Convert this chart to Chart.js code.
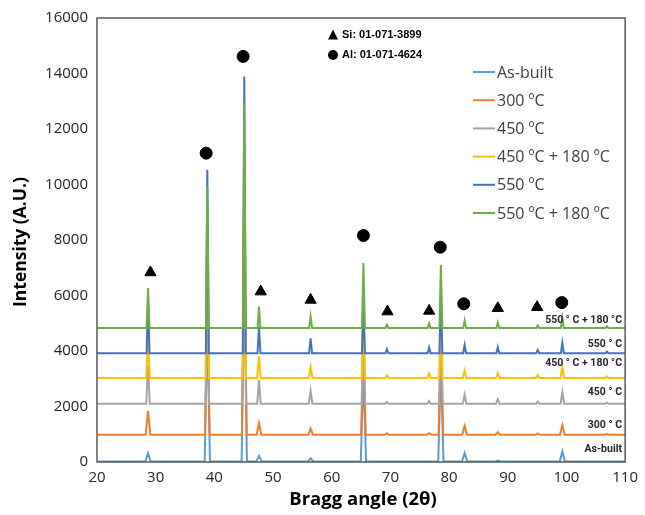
<!DOCTYPE html>
<html>
<head>
<meta charset="utf-8">
<script src="https://cdn.jsdelivr.net/npm/chart.js@4/dist/chart.umd.min.js"></script>
<style>
  html, body { margin: 0; padding: 0; background: #fff; }
  #wrap { width: 645px; height: 515px; }
</style>
</head>
<body>
<div id="wrap"><canvas id="xrd" width="645" height="515"></canvas></div>
<script>
// Peak positions (2θ) shared by all curves
const peakPos = [28.7, 38.8, 45.1, 47.6, 56.4, 65.4, 69.4, 76.6, 78.6, 82.65, 88.3, 95.1, 99.3, 106.9];

// Baselines (vertical offset of each curve)
const baseAsBuilt = 20;
const base300 = 980;
const base450 = 2100;
const base450_180 = 3030;
const base550 = 3920;
const base550_180 = 4830;

// Peak top values, same order as peakPos
const topAsBuilt  = [320, 5000, 7000, 220, 130, 3200, 20, 20, 3500, 320, 55, 20, 380, 20];
const top300      = [1840, 6000, 8800, 1400, 1210, 4400, 1030, 1040, 4700, 1300, 1070, 1030, 1330, 1010];
const top450      = [3500, 6500, 8500, 2950, 2560, 4800, 2160, 2200, 5000, 2430, 2270, 2170, 2520, 2140];
const top450_180  = [4560, 7500, 11000, 3810, 3430, 5500, 3120, 3190, 5600, 3300, 3210, 3130, 3450, 3090];
const top550      = [5840, 10530, 13890, 4870, 4460, 6000, 4070, 4130, 6000, 4220, 4140, 4040, 4300, 3980];
const top550_180  = [6270, 9930, 12930, 5600, 5240, 7170, 4950, 4990, 7100, 5100, 5030, 4920, 5200, 4890];

// Phase markers
const siMarkX = [29.1, 47.9, 56.4, 69.5, 76.6, 88.3, 95.0];
const siMarkY = [6830, 6140, 5840, 5420, 5445, 5540, 5580];
const alMarkX = [38.6, 44.9, 65.4, 78.5, 82.5, 99.2];
const alMarkY = [11130, 14615, 8160, 7740, 5700, 5745];

// Axis ticks
const xTicks = [20, 30, 40, 50, 60, 70, 80, 90, 100, 110];
const yTicks = [0, 2000, 4000, 6000, 8000, 10000, 12000, 14000, 16000];

const series = [
  { name: "As-built",        tag: "As-built",          base: baseAsBuilt, tops: topAsBuilt, color: "#5B9BD5", foot: 0.45 },
  { name: "300 ºC",          tag: "300 ° C",           base: base300,     tops: top300,     color: "#ED7D31", foot: 0.4 },
  { name: "450 ºC",          tag: "450 ° C",           base: base450,     tops: top450,     color: "#A5A5A5", foot: 0.3 },
  { name: "450 ºC + 180 ºC", tag: "450 ° C + 180 °C",  base: base450_180, tops: top450_180, color: "#FFC000", foot: 0.3 },
  { name: "550 ºC",          tag: "550 ° C",           base: base550,     tops: top550,     color: "#4472C4", foot: 0.25 },
  { name: "550 ºC + 180 ºC", tag: "550 ° C + 180 °C",  base: base550_180, tops: top550_180, color: "#70AD47", foot: 0.25 }
];

// build point list: baseline, then foot/top/foot for each peak
function buildPoints(s) {
  let pts = [{ x: 20, y: s.base }];
  for (let i = 0; i < peakPos.length; i++) {
    pts.push({ x: peakPos[i] - s.foot, y: s.base });
    pts.push({ x: peakPos[i], y: s.tops[i] });
    pts.push({ x: peakPos[i] + s.foot, y: s.base });
  }
  pts.push({ x: 110, y: s.base });
  return pts;
}

const datasets = series.map((s, i) => ({
  label: s.name,
  data: buildPoints(s),
  borderColor: s.color,
  backgroundColor: s.color,
  borderWidth: 2,
  pointRadius: 0,
  tension: 0,
  order: 6 - i
}));

datasets.push({
  type: "scatter",
  label: "Si",
  data: siMarkX.map((x, i) => ({ x: x, y: siMarkY[i] })),
  pointStyle: "triangle",
  pointRadius: 6.5,
  backgroundColor: "#000",
  borderColor: "#000",
  order: 0
});
datasets.push({
  type: "scatter",
  label: "Al",
  data: alMarkX.map((x, i) => ({ x: x, y: alMarkY[i] })),
  pointStyle: "circle",
  pointRadius: 6,
  backgroundColor: "#000",
  borderColor: "#000",
  order: 0
});

// frame, legend, labels and axis titles
const decor = {
  id: "decor",
  afterDraw(chart) {
    const ctx = chart.ctx;
    const a = chart.chartArea;
    ctx.save();
    // frame
    ctx.strokeStyle = "#595959";
    ctx.lineWidth = 1.5;
    ctx.strokeRect(a.left, a.top, a.right - a.left, a.bottom - a.top);

    // legend
    ctx.font = "16px 'Open Sans'";
    ctx.textBaseline = "middle";
    ctx.textAlign = "left";
    series.forEach((s, i) => {
      const y = 72 + i * 28.2;
      ctx.strokeStyle = s.color;
      ctx.lineWidth = 2;
      ctx.beginPath();
      ctx.moveTo(473, y);
      ctx.lineTo(495, y);
      ctx.stroke();
      ctx.fillStyle = "#404040";
      ctx.fillText(s.name, 497, y + 1);
    });

    // phase note
    ctx.fillStyle = "#000";
    ctx.font = "bold 11px 'Liberation Sans'";
    ctx.fillText("Si: 01-071-3899", 342, 35);
    ctx.fillText("Al: 01-071-4624", 342, 55);
    ctx.beginPath();
    ctx.moveTo(333, 29.5); ctx.lineTo(338, 39.5); ctx.lineTo(328, 39.5); ctx.closePath();
    ctx.fill();
    ctx.beginPath();
    ctx.arc(333, 55, 5, 0, Math.PI * 2);
    ctx.fill();

    // curve tags on the right
    ctx.font = "bold 10.5px Roboto";
    ctx.textAlign = "right";
    const tagY = [449, 425, 392, 363, 344, 320];
    series.forEach((s, i) => {
      ctx.fillStyle = "#262626";
      ctx.fillText(s.tag, 622, tagY[i]);
    });

    // axis titles
    ctx.fillStyle = "#000";
    ctx.textAlign = "center";
    ctx.font = "bold 18.5px 'Open Sans'";
    ctx.fillText("Bragg angle (2θ)", 363, 500);
    ctx.font = "bold 17.5px 'Open Sans'";
    ctx.translate(21, 242);
    ctx.rotate(-Math.PI / 2);
    ctx.fillText("Intensity (A.U.)", 0, 0);
    ctx.restore();
  }
};

new Chart(document.getElementById("xrd"), {
  type: "line",
  data: { datasets: datasets },
  options: {
    responsive: false,
    animation: false,
    layout: { padding: { top: 18, right: 17, left: 0, bottom: 0 } },
    plugins: { legend: { display: false }, tooltip: { enabled: false } },
    scales: {
      x: {
        type: "linear",
        min: 20, max: 110,
        grid: { display: false, drawTicks: false },
        border: { display: false },
        afterBuildTicks: (sc) => { sc.ticks = xTicks.map(v => ({ value: v })); },
        afterFit: (sc) => { sc.height = 53; },
        ticks: { padding: 7, color: "#262626", font: { family: "Open Sans", size: 15 },
                 callback: (v) => String(v) }
      },
      y: {
        min: 0, max: 16000,
        grid: { display: false, drawTicks: false },
        border: { display: false },
        afterBuildTicks: (sc) => { sc.ticks = yTicks.map(v => ({ value: v })); },
        afterFit: (sc) => { sc.width = 97; },
        ticks: { padding: 9, color: "#262626", font: { family: "Open Sans", size: 15 },
                 callback: (v) => String(v) }
      }
    }
  },
  plugins: [decor]
});
</script>
</body>
</html>
